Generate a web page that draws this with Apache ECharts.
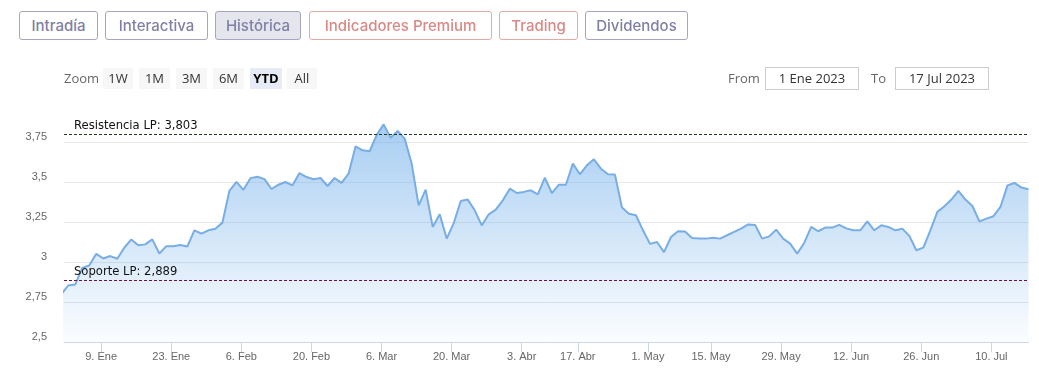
<!DOCTYPE html>
<html><head><meta charset="utf-8">
<script src="https://cdn.jsdelivr.net/npm/echarts@6/dist/echarts.min.js"></script>
<style>
html,body{margin:0;padding:0;background:#fff;width:1039px;height:387px;overflow:hidden;}
#chart{position:absolute;left:0;top:0;width:1039px;height:387px;}
.tab{position:absolute;top:11px;height:27px;line-height:27px;border:1px solid #a6a6c0;border-radius:3px;text-align:center;font-family:Inter,"Open Sans",sans-serif;font-size:15px;font-weight:500;color:#8080a6;background:#fff;white-space:nowrap;}
.tab.sel{background:#e5e5ee;}
.tab.red{border-color:#e3aaa6;color:#d98a86;}
.zb{position:absolute;top:68px;height:21px;line-height:21px;text-align:center;background:#f7f7f7;font-family:"Open Sans",sans-serif;font-size:13px;color:#333;}
.zb.on{background:#e6ebf5;font-weight:bold;color:#000;}
.lbl{position:absolute;top:68px;height:21px;line-height:21px;font-family:"Open Sans",sans-serif;font-size:13px;color:#666;}
.inp{position:absolute;top:67px;height:21px;line-height:21px;border:1px solid #cccccc;text-align:center;font-family:"Open Sans",sans-serif;font-size:13px;color:#333;background:#fff;}
</style></head><body>
<div id="chart"></div>
<div class="tab" style="left:19px;width:77px">Intradía</div>
<div class="tab" style="left:105px;width:101px">Interactiva</div>
<div class="tab sel" style="left:215px;width:84px">Histórica</div>
<div class="tab red" style="left:309px;width:181px">Indicadores Premium</div>
<div class="tab red" style="left:499px;width:77px">Trading</div>
<div class="tab" style="left:585px;width:101px">Dividendos</div>
<div class="lbl" style="left:64px">Zoom</div>
<div class="zb" style="left:103px;width:30px">1W</div>
<div class="zb" style="left:139px;width:31px">1M</div>
<div class="zb" style="left:176px;width:31px">3M</div>
<div class="zb" style="left:213px;width:31px">6M</div>
<div class="zb on" style="left:250px;width:32px">YTD</div>
<div class="zb" style="left:287px;width:30px">All</div>
<div class="lbl" style="left:728px">From</div>
<div class="inp" style="left:765px;width:92px">1 Ene 2023</div>
<div class="lbl" style="left:871px">To</div>
<div class="inp" style="left:895px;width:92px">17 Jul 2023</div>
<script>
const dates = [
'2022-12-30',
'2023-01-02','2023-01-03','2023-01-04','2023-01-05','2023-01-06','2023-01-09','2023-01-10','2023-01-11','2023-01-12','2023-01-13',
'2023-01-16','2023-01-17','2023-01-18','2023-01-19','2023-01-20','2023-01-23','2023-01-24','2023-01-25','2023-01-26','2023-01-27',
'2023-01-30','2023-01-31','2023-02-01','2023-02-02','2023-02-03','2023-02-06','2023-02-07','2023-02-08','2023-02-09','2023-02-10',
'2023-02-13','2023-02-14','2023-02-15','2023-02-16','2023-02-17','2023-02-20','2023-02-21','2023-02-22','2023-02-23','2023-02-24',
'2023-02-27','2023-02-28','2023-03-01','2023-03-02','2023-03-03','2023-03-06','2023-03-07','2023-03-08','2023-03-09','2023-03-10',
'2023-03-13','2023-03-14','2023-03-15','2023-03-16','2023-03-17','2023-03-20','2023-03-21','2023-03-22','2023-03-23','2023-03-24',
'2023-03-27','2023-03-28','2023-03-29','2023-03-30','2023-03-31','2023-04-03','2023-04-04','2023-04-05','2023-04-06','2023-04-11',
'2023-04-12','2023-04-13','2023-04-14','2023-04-17','2023-04-18','2023-04-19','2023-04-20','2023-04-21','2023-04-24','2023-04-25',
'2023-04-26','2023-04-27','2023-04-28','2023-05-02','2023-05-03','2023-05-04','2023-05-05','2023-05-08','2023-05-09','2023-05-10',
'2023-05-11','2023-05-12','2023-05-15','2023-05-16','2023-05-17','2023-05-18','2023-05-19','2023-05-22','2023-05-23','2023-05-24',
'2023-05-25','2023-05-26','2023-05-29','2023-05-30','2023-05-31','2023-06-01','2023-06-02','2023-06-05','2023-06-06','2023-06-07',
'2023-06-08','2023-06-09','2023-06-12','2023-06-13','2023-06-14','2023-06-15','2023-06-16','2023-06-19','2023-06-20','2023-06-21',
'2023-06-22','2023-06-23','2023-06-26','2023-06-27','2023-06-28','2023-06-29','2023-06-30','2023-07-03','2023-07-04','2023-07-05',
'2023-07-06','2023-07-07','2023-07-10','2023-07-11','2023-07-12','2023-07-13','2023-07-14','2023-07-17'
];
const closes = [
2.800,
2.855,2.861,2.965,2.980,3.053,3.024,3.039,3.022,3.091,3.143,
3.106,3.112,3.143,3.055,3.101,3.101,3.108,3.099,3.200,3.179,
3.200,3.210,3.248,3.447,3.503,3.453,3.526,3.535,3.520,3.458,
3.485,3.502,3.481,3.558,3.533,3.519,3.527,3.477,3.527,3.496,
3.554,3.725,3.700,3.694,3.795,3.862,3.779,3.821,3.773,3.617,
3.356,3.454,3.221,3.300,3.148,3.245,3.383,3.392,3.325,3.231,
3.300,3.329,3.387,3.460,3.433,3.440,3.450,3.425,3.529,3.433,
3.485,3.485,3.617,3.550,3.606,3.644,3.585,3.550,3.548,3.342,
3.304,3.294,3.200,3.115,3.127,3.064,3.158,3.194,3.192,3.152,
3.148,3.148,3.154,3.148,3.169,3.190,3.210,3.237,3.233,3.148,
3.162,3.204,3.148,3.117,3.054,3.121,3.221,3.194,3.217,3.217,
3.234,3.212,3.200,3.200,3.256,3.200,3.231,3.221,3.200,3.210,
3.165,3.075,3.092,3.200,3.315,3.350,3.392,3.446,3.392,3.352,
3.256,3.273,3.288,3.346,3.481,3.496,3.467,3.456
];
const tickDates = ['2023-01-09','2023-01-23','2023-02-06','2023-02-20','2023-03-06','2023-03-20','2023-04-03','2023-04-17','2023-05-01','2023-05-15','2023-05-29','2023-06-12','2023-06-26','2023-07-10'];
const tickLabels = ['9. Ene','23. Ene','6. Feb','20. Feb','6. Mar','20. Mar','3. Abr','17. Abr','1. May','15. May','29. May','12. Jun','26. Jun','10. Jul'];
const resistance = 3.803;
const support = 2.889;

const baseIdx = dates.indexOf('2023-01-02');
const seriesData = dates.map((d, i) => [i - baseIdx, closes[i]]);
const tickPos = tickDates.map(t => dates.findIndex(d => d >= t) - baseIdx - 0.3);
const fmt = (v, n) => v.toFixed(n).replace('.', ',');

const chart = echarts.init(document.getElementById('chart'), null, {renderer: 'canvas'});
chart.setOption({
  animation: false,
  grid: {left: 64, right: 10.5, top: 118.3, bottom: 44.7},
  xAxis: {
    type: 'value', min: -0.6, max: dates.length - 1 - baseIdx,
    axisLine: {show: true, onZero: false, lineStyle: {color: '#ccd6eb', width: 1}},
    axisTick: {show: true, customValues: tickPos, length: 10, lineStyle: {color: '#ccd6eb'}},
    axisLabel: {
      customValues: tickPos, color: '#666', fontSize: 11, margin: 9, fontFamily: 'Liberation Sans',
      formatter: v => { const k = tickPos.findIndex(p => Math.abs(p - v) < 0.01); return k >= 0 ? tickLabels[k] : ''; }
    },
    splitLine: {show: false}
  },
  yAxis: {
    type: 'value', min: 2.5, max: 3.9, interval: 0.25,
    axisLine: {show: false}, axisTick: {show: false},
    axisLabel: {
      showMaxLabel: false, color: '#666', fontSize: 11, margin: 17, verticalAlign: 'bottom', fontFamily: 'Liberation Sans',
      formatter: v => String(+v.toFixed(2)).replace('.', ',')
    },
    splitLine: {show: true, showMaxLine: false, lineStyle: {color: '#e6e6e6', width: 1}}
  },
  series: [{
    type: 'line', data: seriesData, symbol: 'none', clip: true,
    lineStyle: {color: '#78aee3', width: 2},
    areaStyle: {color: new echarts.graphic.LinearGradient(0, 0, 0, 1, [
      {offset: 0, color: 'rgba(124,181,236,0.95)'},
      {offset: 1, color: 'rgba(124,181,236,0.04)'}
    ])},
    markLine: {
      symbol: 'none', silent: true, animation: false,
      lineStyle: {type: [3, 2], width: 1},
      label: {position: 'insideStartTop', distance: [10, 2], color: '#111', fontSize: 11.6, fontFamily: 'DejaVu Sans'},
      data: [
        {yAxis: resistance, lineStyle: {color: '#1f3a1f'}, label: {formatter: 'Resistencia LP: ' + fmt(resistance, 3)}},
        {yAxis: support, lineStyle: {color: '#6b1040'}, label: {formatter: 'Soporte LP: ' + fmt(support, 3)}}
      ]
    }
  }]
});
</script>
</body></html>
